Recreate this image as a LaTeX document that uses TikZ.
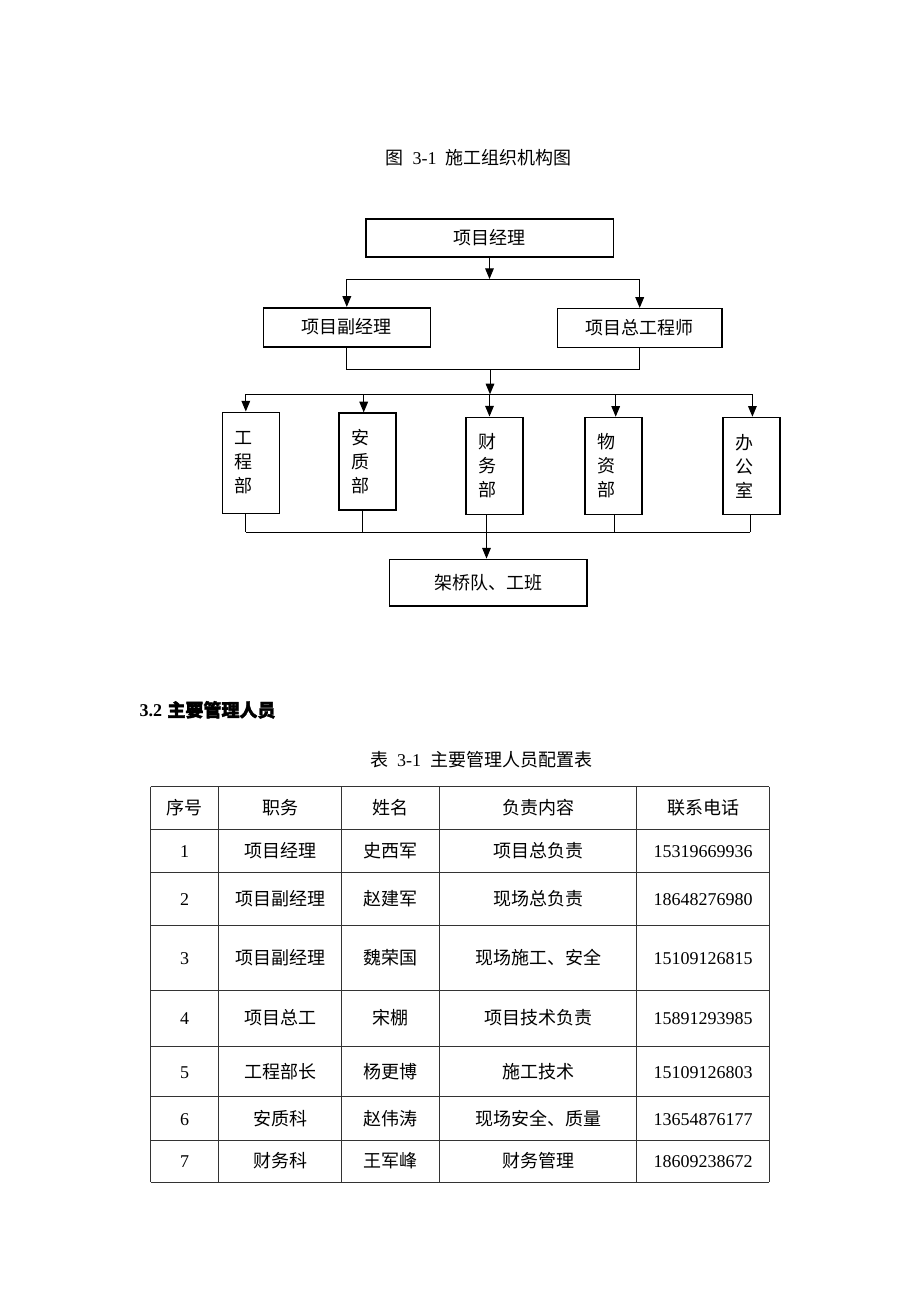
\documentclass[tikz,border=0pt]{standalone}
\usepackage{fontspec}
\setmainfont{Liberation Serif}
\newfontfamily\cjk{Noto Sans CJK SC}
\newfontfamily\cjkbold[FakeBold=2]{Noto Sans CJK SC}
\usepackage{tikz}
\usetikzlibrary{calc,arrows.meta,positioning}
\definecolor{gridgrey}{gray}{0.2}
\tikzset{link/.style={line width=0.7pt},arr/.style={line width=0.7pt,-{Triangle[length=8pt,width=6.5pt]}}}

\begin{document}
\begin{tikzpicture}[x=0.75pt,y=-0.75pt,font=\fontsize{13.5}{18}\selectfont]

\tikzset{boxnode/.style={draw=black,line width=1.2pt,inner sep=0pt,font=\cjk\fontsize{13.5}{18}\selectfont,text height=10pt,text depth=0pt},
deptnode/.style={draw=black,line width=1.2pt,inner sep=0pt,minimum width=42.75pt,minimum height=72.75pt,font=\cjk\fontsize{13.5}{18}\selectfont,align=left,text width=24pt},
cell/.style={inner sep=0pt,font=\cjk\fontsize{13.5}{18}\selectfont,text height=10pt,text depth=0pt},
numcell/.style={inner sep=0pt,font=\rmfamily\fontsize{13.5}{18}\selectfont,text height=10pt,text depth=0pt},
capnode/.style={inner sep=0pt,text height=10pt,text depth=0pt},
grid/.style={draw=gridgrey,line width=0.75pt}}

\useasboundingbox (0,0) rectangle (920,1302);

% Figure caption
\node[capnode] (figcap) at (478.5,157.5) {{\cjk 图}\hspace{0.5em}3-1\hspace{0.5em}{\cjk 施工组织机构图}};

% Managers
\node[boxnode,minimum width=185.7pt,minimum height=28.5pt] (pm) at (489.5,238) {项目经理};
\node[boxnode,minimum width=125.25pt,minimum height=29.25pt] (dpm) at (346.8,327.2) {项目副经理};
\node[boxnode,minimum width=123.5pt,minimum height=29pt] (cen) at (639.7,328) {项目总工程师};

% Departments
\node[deptnode,minimum height=75.75pt] (gcb) at (250.8,462.8) {工\\程\\部};
\node[deptnode] (azb) at (367.7,461.7) {安\\质\\部};
\node[deptnode] (cwb) at (494.5,465.8) {财\\务\\部};
\node[deptnode] (wzb) at (613.7,466) {物\\资\\部};
\node[deptnode] (bgs) at (751.4,466) {办\\公\\室};

% Work teams
\node[boxnode,minimum width=148.3pt,minimum height=35pt] (jqd) at (488.2,582.7) {架桥队、工班};

% Connectors
\coordinate (bus1) at (490,279);
\coordinate (bus2) at (490,369.3);
\coordinate (bus3) at (490,394.3);
\coordinate (bus4) at (490,532.3);
\draw[arr] (pm.south) -- (pm.south |- bus1);
\draw[link] (dpm.north |- bus1) -- (cen.north |- bus1);
\draw[arr] (dpm.north |- bus1) -- (dpm.north);
\draw[arr] (cen.north |- bus1) -- (cen.north);
\draw[link] (dpm.south) -- (dpm.south |- bus2) -- (cen.south |- bus2) -- (cen.south);
\draw[arr] (bus2) -- (bus3);
\draw[link] ($(gcb.north |- bus3)+(-5,0)$) -- ($(bgs.north |- bus3)+(1,0)$);
\foreach \n/\dx in {gcb/-5,azb/-4,cwb/-5,wzb/2,bgs/1} \draw[arr] ($(\n.north |- bus3)+(\dx,0)$) -- ($(\n.north)+(\dx,0)$);
\foreach \n/\dx in {gcb/-5,azb/-5,wzb/1,bgs/-1} \draw[link] ($(\n.south)+(\dx,0)$) -- ($(\n.south |- bus4)+(\dx,0)$);
\draw[link] ($(gcb.south |- bus4)+(-5,0)$) -- ($(bgs.south |- bus4)+(-1,0)$);
\coordinate (drop) at ($(cwb.south)+(-8,0)$);
\draw[arr] (drop) -- (drop |- jqd.north);

% Section heading and table caption
\node[capnode,anchor=west] (sec) at (139.3,710) {\bfseries 3.2\hspace{0.3em}{\cjkbold 主要管理人员}};
\node[capnode] (tabcap) at (481,759.5) {{\cjk 表}\hspace{0.5em}3-1\hspace{0.5em}{\cjk 主要管理人员配置表}};

% Table grid
\foreach \y in {786.7,829.3,872.3,925.3,990.3,1046.3,1096.7,1140,1182.3} \draw[grid] (150.7,\y) -- (769.3,\y);
\foreach \x in {150.7,218.5,341.5,439.5,636.5,769.3} \draw[grid] (\x,786.7) -- (\x,1182.3);

% Table header
\foreach \cx/\t [count=\i] in {184.6/序号,280/职务,390.5/姓名,538/负责内容,703/联系电话} \node[cell] (h\i) at (\cx,808) {\t};

% Table rows
\foreach \yc/\n/\job/\who/\duty/\tel in {850.8/1/项目经理/史西军/项目总负责/15319669936,
  898.8/2/项目副经理/赵建军/现场总负责/18648276980,
  957.8/3/项目副经理/魏荣国/现场施工、安全/15109126815,
  1018.3/4/项目总工/宋棚/项目技术负责/15891293985,
  1071.5/5/工程部长/杨更博/施工技术/15109126803,
  1118.4/6/安质科/赵伟涛/现场安全、质量/13654876177,
  1161.2/7/财务科/王军峰/财务管理/18609238672} {
  \node[numcell] (n\n) at (184.6,\yc) {\n};
  \node[cell] (j\n) at (280,\yc) {\job};
  \node[cell] (w\n) at (390.5,\yc) {\who};
  \node[cell] (d\n) at (538,\yc) {\duty};
  \node[numcell] (t\n) at (703,\yc) {\tel};
}

\end{tikzpicture}
\end{document}
